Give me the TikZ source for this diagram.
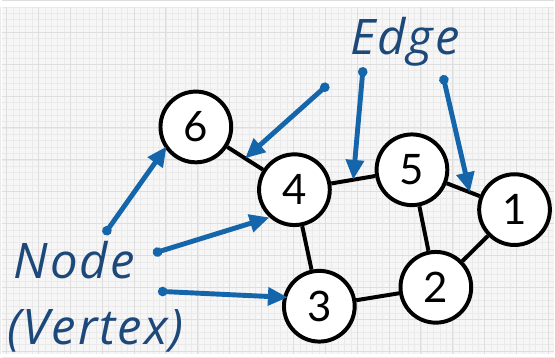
\documentclass[tikz,border=0pt]{standalone}
\usepackage{fontspec}
\setmainfont{Lato}
\newfontfamily\termfont[LetterSpace=4]{Open Sans}
\usepackage{tikz}
\usetikzlibrary{
  arrows.meta
}
\definecolor{PointerBlue}{RGB}{21, 101, 171}
\definecolor{LabelBlue}{RGB}{28, 72, 122}
\definecolor{PaperGray}{RGB}{246, 246, 246}
\definecolor{GridMinor}{RGB}{234, 234, 234}
\definecolor{GridMajor}{RGB}{222, 222, 222}
\tikzset{
    vertex/.style={circle, draw=black, fill=white, line width=3.4pt, minimum size=2.13cm, inner sep=0pt, font=\fontsize{36}{36}\selectfont},
    link/.style={black, line width=3.4pt},
    pointer/.style={PointerBlue, line width=4.2pt, {Circle[length=8pt]}-{Triangle[length=17pt, width=15pt]}},
    term/.style={LabelBlue, anchor=base, font=\termfont\fontsize{42}{42}\selectfont\itshape}
}

\begin{document}
\begin{tikzpicture}[x=0.03cm, y=-0.03cm]
            % graph paper
            \fill[PaperGray] (0,0) rectangle (555,348);
            \foreach \k in {0,...,87} \draw[GridMinor, line width=0.4pt] ({-1.4+6.4*\k},0) -- ({-1.4+6.4*\k},348);
            \foreach \k in {0,...,55} \draw[GridMinor, line width=0.4pt] (0,{-0.6+6.4*\k}) -- (555,{-0.6+6.4*\k});
            \foreach \k in {0,...,17} \draw[GridMajor, line width=0.8pt] ({5+32*\k},0) -- ({5+32*\k},348);
            \foreach \k in {0,...,11} \draw[GridMajor, line width=0.8pt] (0,{-7+32*\k}) -- (555,{-7+32*\k});

            % vertices
            \node[vertex] (v6) at (195,120) {6};
            \node[vertex] (v4) at (294,183) {4};
            \node[vertex] (v5) at (412,163) {5};
            \node[vertex] (v1) at (515,203) {1};
            \node[vertex] (v2) at (436,281) {2};
            \node[vertex] (v3) at (319,300) {3};

            % edges
            \draw[link] (v6) -- coordinate[pos=0.5] (e64) (v4);
            \draw[link] (v4) -- coordinate[pos=0.5] (e45) (v5);
            \draw[link] (v5) -- coordinate[pos=0.7] (e51) (v1);
            \draw[link] (v5) -- (v2);
            \draw[link] (v1) -- (v2);
            \draw[link] (v4) -- (v3);
            \draw[link] (v3) -- (v2);

            % labels
            \node[term] (edgeword) at (405,47) {Edge};
            \node[term] (nodeword) at (73,272) {Node};
            \node[term] (vertexword) at (94,338) {(Vertex)};

            % pointers
            \coordinate (t64) at (328,77);
            \coordinate (t45) at (363,60);
            \coordinate (t51) at (443,68);
            \coordinate (tv6) at (103,228);
            \coordinate (tv4) at (152,247);
            \coordinate (tv3) at (157,285);
            \draw[pointer] (t64) -- (e64);
            \draw[pointer] (t45) -- (e45);
            \draw[pointer] (t51) -- (e51);
            \draw[pointer, shorten >=-2pt] (tv6) -- (v6.215);
            \draw[pointer] (tv4) -- (v4.228);
            \draw[pointer, shorten >=-4pt] (tv3) -- (v3.166);
\end{tikzpicture}
\end{document}
